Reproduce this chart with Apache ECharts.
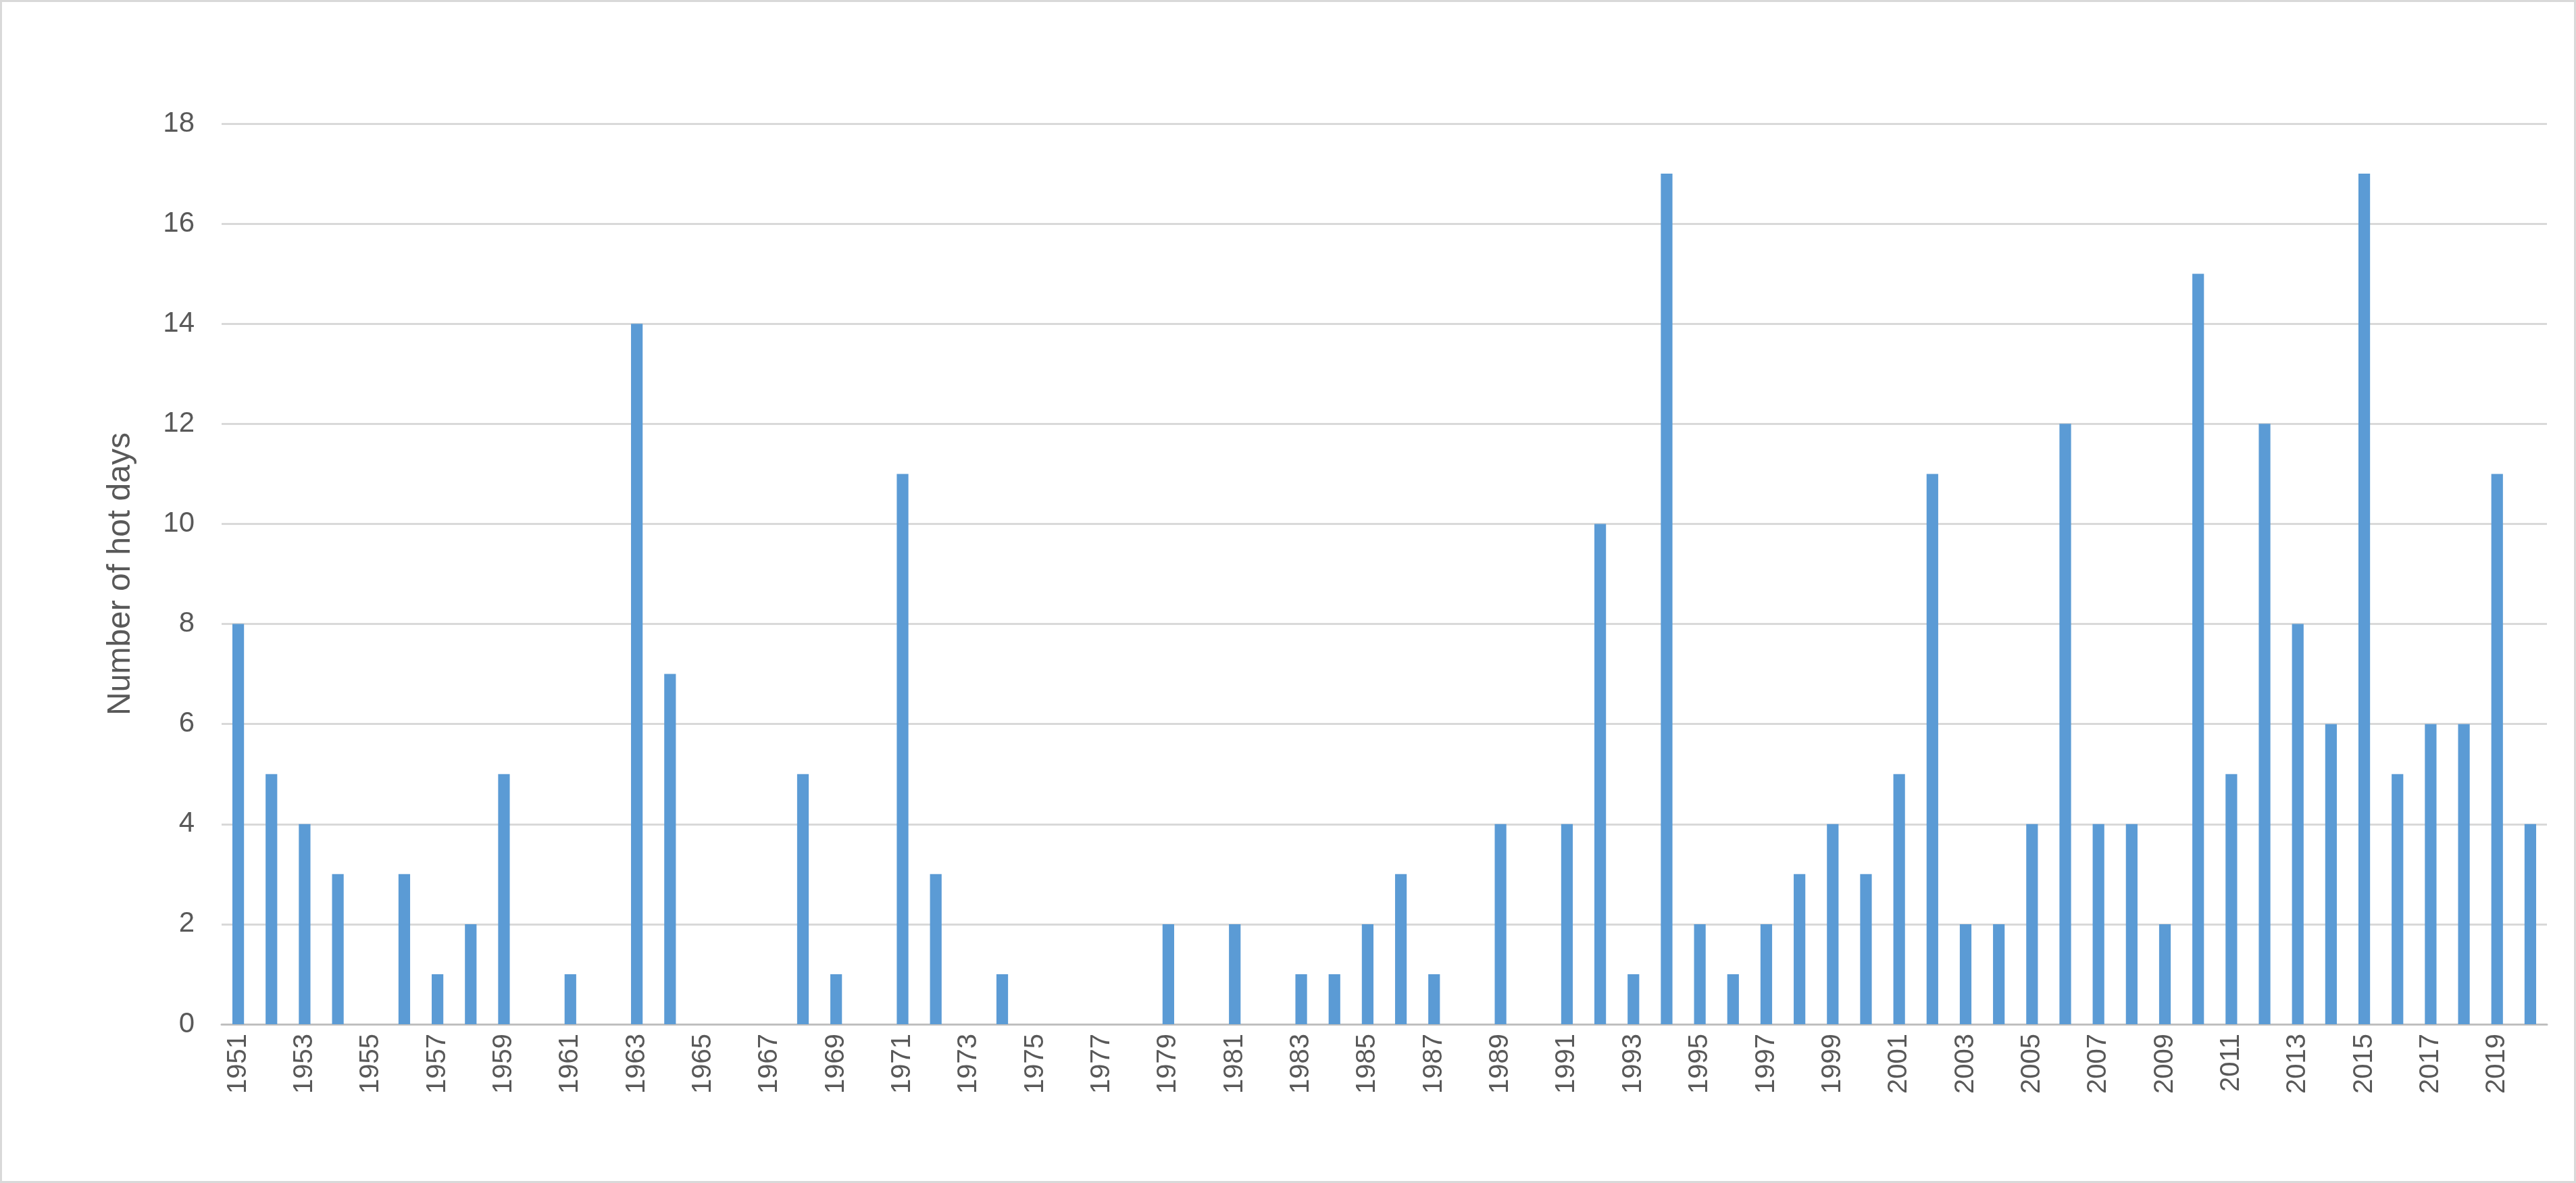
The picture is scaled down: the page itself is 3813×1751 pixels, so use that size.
<!DOCTYPE html>
<html>
<head>
<meta charset="utf-8">
<script src="https://cdn.jsdelivr.net/npm/echarts@6/dist/echarts.min.js"></script>
<style>
  html, body { margin: 0; padding: 0; background: #fff; }
  #chart { width: 3813px; height: 1751px; box-sizing: border-box; border: 3px solid #d9d9d9; }
</style>
</head>
<body>
<div id="chart"></div>
<script>
// years and hot-day counts
var years = [];
for (var y = 1951; y <= 2020; y++) years.push(String(y));
var hotDays = [
  8, 5, 4, 3, 0, 3, 1, 2, 5, 0,
  1, 0, 14, 7, 0, 0, 0, 5, 1, 0,
  11, 3, 0, 1, 0, 0, 0, 0, 2, 0,
  2, 0, 1, 1, 2, 3, 1, 0, 4, 0,
  4, 10, 1, 17, 2, 1, 2, 3, 4, 3,
  5, 11, 2, 2, 4, 12, 4, 4, 2, 15,
  5, 12, 8, 6, 17, 5, 6, 6, 11, 4
];

var chart = echarts.init(document.getElementById('chart'));
chart.setOption({
  animation: false,
  grid: { left: 325, right: 40, top: 180, bottom: 232 },
  xAxis: {
    type: 'category',
    data: years,
    axisTick: { show: false },
    axisLine: { lineStyle: { color: '#bfbfbf', width: 3 } },
    axisLabel: { rotate: 90, interval: 1, fontSize: 40, color: '#595959', fontFamily: 'Liberation Sans', margin: 14 }
  },
  yAxis: {
    type: 'value',
    min: 0, max: 18, interval: 2,
    name: 'Number of hot days',
    nameLocation: 'middle',
    nameGap: 125,
    nameTextStyle: { fontSize: 48, color: '#595959', fontFamily: 'Liberation Sans' },
    axisLine: { show: false },
    axisTick: { show: false },
    axisLabel: { fontSize: 42, color: '#595959', fontFamily: 'Liberation Sans', margin: 40 },
    splitLine: { lineStyle: { color: '#d9d9d9', width: 3 } }
  },
  series: [{
    type: 'bar',
    data: hotDays,
    barWidth: '35%',
    itemStyle: { color: '#5b9bd5' }
  }]
});
</script>
</body>
</html>
